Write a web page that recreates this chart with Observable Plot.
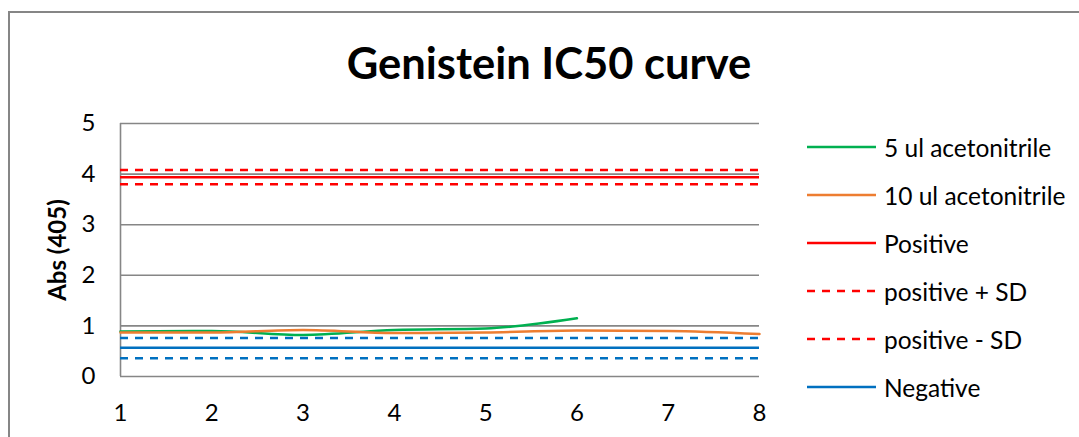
<!DOCTYPE html>
<html>
<head>
<meta charset="utf-8">
<script src="https://cdn.jsdelivr.net/npm/d3@7"></script>
<script src="https://cdn.jsdelivr.net/npm/@observablehq/plot@0.6"></script>
<style>
  body { margin: 0; background: #fff; font-family: Lato, "Open Sans", sans-serif; }
  #chart { position: relative; width: 1079px; height: 437px; overflow: hidden; background: #fff; }
  #chart svg.plot { position: absolute; left: 0; top: 0; }
  #frame { position: absolute; left: 8px; top: 11px; right: -10px; bottom: -10px;
           border-left: 2px solid #868686; border-top: 2px solid #868686; }
  #title { position: absolute; left: 19px; right: 0; top: 41px; text-align: center; line-height: 1;
           font-weight: bold; font-size: 43.5px; color: #000; }
  #legend { position: absolute; left: 806px; top: 0; }
  .item { position: absolute; left: 0; height: 30px; display: flex; align-items: center;
          white-space: nowrap; font-size: 24.5px; color: #000; }
  .item svg { margin-right: 8px; }
</style>
</head>
<body>
<div id="chart">
  <div id="frame"></div>
  <div id="title">Genistein IC50 curve</div>
  <div id="legend"></div>
</div>
<script>
// Well index along the x axis
const wells = [1, 2, 3, 4, 5, 6, 7, 8];

// Absorbance at 405 nm for the two acetonitrile volumes
const ul5 = [0.89, 0.90, 0.82, 0.92, 0.95, 1.15];
const ul10 = [0.87, 0.87, 0.92, 0.86, 0.87, 0.91, 0.90, 0.84];

// Control reference levels
const positive = 3.94;
const positivePlusSD = 4.08;
const positiveMinusSD = 3.80;
const negative = 0.57;
const negativePlusSD = 0.76;
const negativeMinusSD = 0.36;

const yTicks = [0, 1, 2, 3, 4, 5];

// Legend entries
const legendNames = ["5 ul acetonitrile", "10 ul acetonitrile", "Positive", "positive + SD", "positive - SD", "Negative"];
const legendColors = ["#00b050", "#ed7d31", "#ff0000", "#ff0000", "#ff0000", "#0070c0"];
const legendDashed = [false, false, false, true, true, false];

const GREEN = "#00b050", ORANGE = "#ed7d31", RED = "#ff0000", BLUE = "#0070c0", GRID = "#868686";
const DASH = "8,7";
const W = 2.5;

const s5 = ul5.map((v, i) => ({x: wells[i], y: v}));
const s10 = ul10.map((v, i) => ({x: wells[i], y: v}));
const x1 = wells[0], x2 = wells[wells.length - 1];

const plot = Plot.plot({
  width: 1079,
  height: 437,
  marginLeft: 120,
  marginRight: 320,
  marginTop: 123,
  marginBottom: 61,
  style: {fontFamily: "Lato, 'Open Sans', sans-serif", fontSize: "24px", color: "#000", background: "transparent"},
  x: {domain: [1, 8], ticks: wells, tickSize: 0, tickPadding: 27, tickFormat: d => d, label: null},
  y: {domain: [0, 5], ticks: yTicks, tickSize: 0, tickPadding: 25, tickFormat: d => d, label: null},
  marks: [
    Plot.ruleY(yTicks, {x1, x2, stroke: GRID, strokeWidth: 1.6}),
    Plot.ruleX([x1], {y1: 0, y2: 5, stroke: GRID, strokeWidth: 1.6}),
    Plot.line(s5, {x: "x", y: "y", stroke: GREEN, strokeWidth: W, curve: "monotone-x"}),
    Plot.line(s10, {x: "x", y: "y", stroke: ORANGE, strokeWidth: W, curve: "monotone-x"}),
    Plot.ruleY([positive], {x1, x2, stroke: RED, strokeWidth: W}),
    Plot.ruleY([positivePlusSD], {x1, x2, stroke: RED, strokeWidth: W, strokeDasharray: DASH}),
    Plot.ruleY([positiveMinusSD], {x1, x2, stroke: RED, strokeWidth: W, strokeDasharray: DASH}),
    Plot.ruleY([negative], {x1, x2, stroke: BLUE, strokeWidth: W}),
    Plot.ruleY([negativePlusSD], {x1, x2, stroke: BLUE, strokeWidth: W, strokeDasharray: DASH}),
    Plot.ruleY([negativeMinusSD], {x1, x2, stroke: BLUE, strokeWidth: W, strokeDasharray: DASH}),
    Plot.text(["Abs (405)"], {frameAnchor: "left", textAnchor: "middle", dx: -62, rotate: -90, fontWeight: "bold", fontSize: 24, fill: "#000"})
  ]
});
plot.classList.add("plot");
document.getElementById("chart").insertBefore(plot, document.getElementById("title"));

// Legend
const legend = document.getElementById("legend");
legendNames.forEach((name, i) => {
  const item = document.createElement("div");
  item.className = "item";
  item.style.top = (132 + i * 48) + "px";
  const dash = legendDashed[i] ? ` stroke-dasharray="${DASH}"` : "";
  item.innerHTML = `<svg width="70" height="6"><line x1="1" y1="3" x2="70" y2="3" stroke="${legendColors[i]}" stroke-width="${W}"${dash}/></svg><span>${name}</span>`;
  legend.appendChild(item);
});
</script>
</body>
</html>
